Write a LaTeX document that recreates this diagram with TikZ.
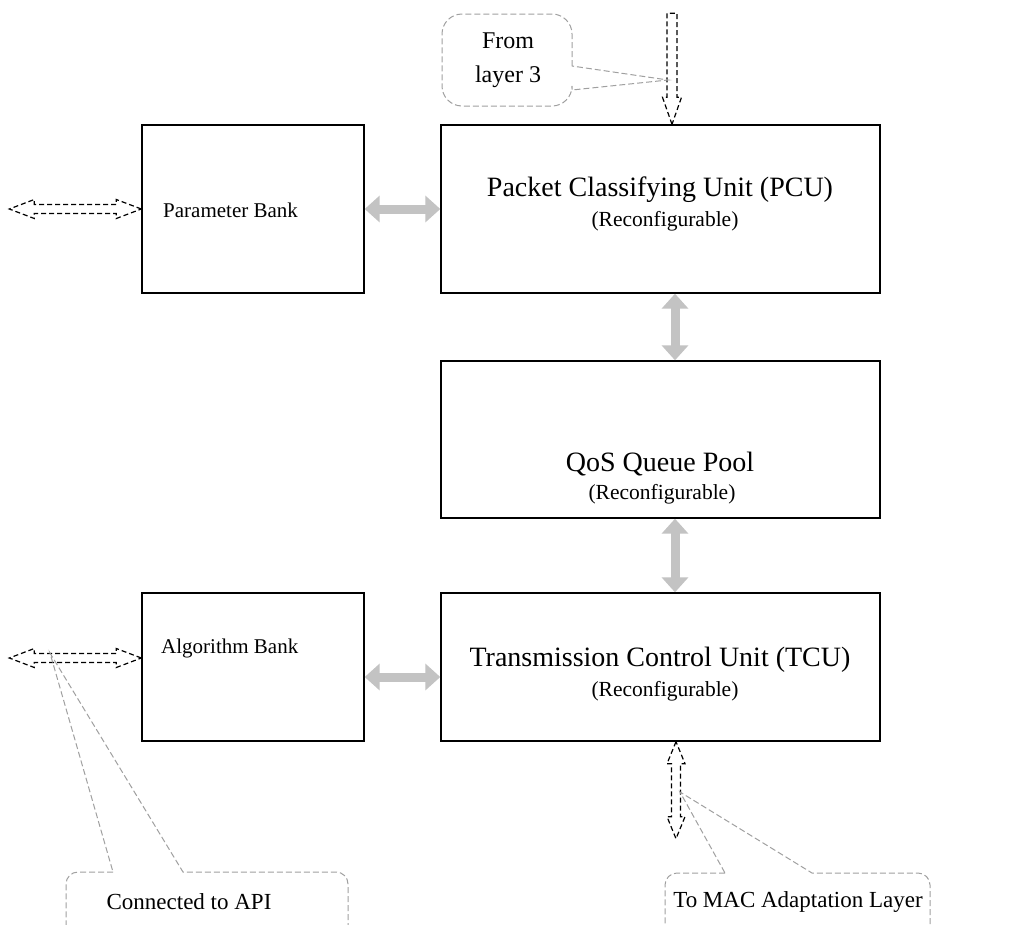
\documentclass[tikz,border=0pt]{standalone}
\usepackage{fontspec}
\setmainfont{Liberation Serif}
\usetikzlibrary{arrows.meta,calc}
\definecolor{arrowgray}{HTML}{C3C3C3}
\definecolor{calloutgray}{HTML}{A0A0A0}
\begin{document}
\begin{tikzpicture}[x=1pt,y=-1pt,
  box/.style={draw=black, line width=1.4pt, inner sep=0pt, minimum width=#1},
  lbl/.style={inner sep=0pt, anchor=west, font=\fontsize{21}{24}\selectfont},
  title/.style={inner sep=0pt, font=\fontsize{28}{32}\selectfont},
  recon/.style={inner sep=0pt, font=\fontsize{21.5}{24}\selectfont},
  ctext/.style={inner sep=0pt, align=center, font=\fontsize{#1}{34}\selectfont},
  garrow/.style={draw=arrowgray, line width=9pt, {Triangle[length=15pt,width=26pt]}-{Triangle[length=15pt,width=26pt]}},
  hollow/.style={draw=black, line width=1.2pt, dash pattern=on 5pt off 3pt, line join=miter},
  callout/.style={draw=calloutgray, line width=1pt, dash pattern=on 6pt off 3pt}]
\clip (0,0) rectangle (1011,924);
\fill[white] (0,0) rectangle (1011,924);

% boxes
\node[box=222pt, minimum height=168pt] (pb) at (253,209) {};
\node[box=439pt, minimum height=168pt] (pcu) at (660.5,209) {};
\node[box=439pt, minimum height=157pt] (qos) at (660.5,439.5) {};
\node[box=222pt, minimum height=148pt] (ab) at (253,667) {};
\node[box=439pt, minimum height=148pt] (tcu) at (660.5,667) {};

% texts
\node[lbl] (pbt) at (163,210) {Parameter Bank};
\node[lbl] (abt) at (161,648) {Algorithm Bank};
\node[title] (pcut) at (660,190) {Packet Classifying Unit (PCU)};
\node[recon] (pcur) at (665,221) {(Reconfigurable)};
\node[title] (qost) at (660,464) {QoS Queue Pool};
\node[recon] (qosr) at (662,494) {(Reconfigurable)};
\node[title] (tcut) at (660,660) {Transmission Control Unit (TCU)};
\node[recon] (tcur) at (665,691) {(Reconfigurable)};

% gray connectors
\draw[garrow] (pb.east) -- (pcu.west);
\draw[garrow] ($(pcu.south)+(14.5,0)$) -- ($(qos.north)+(14.5,0)$);
\draw[garrow] ($(qos.south)+(14.5,0)$) -- ($(tcu.north)+(14.5,0)$);
\draw[garrow] ($(ab.east)+(0,10)$) -- ($(tcu.west)+(0,10)$);

% hollow dashed arrows
\coordinate (la1) at (pb.west);
\draw[hollow] (la1) -- ++(-25,-9.5) -- ++(0,5) -- ++(-82,0) -- ++(0,-5) -- ++(-25,9.5)
  -- ++(25,9.5) -- ++(0,-5) -- ++(82,0) -- ++(0,5) -- cycle;
\coordinate (la2) at ($(ab.west)+(0,-9)$);
\draw[hollow] (la2) -- ++(-25,-9.5) -- ++(0,5) -- ++(-82,0) -- ++(0,-5) -- ++(-25,9.5)
  -- ++(25,9.5) -- ++(0,-5) -- ++(82,0) -- ++(0,5) -- cycle;
\coordinate (ta) at ($(pcu.north)+(11.5,0)$);
\draw[hollow] (ta) -- ++(-9.5,-27) -- ++(4.5,0) -- ++(0,-84) -- ++(10,0) -- ++(0,84)
  -- ++(4.5,0) -- cycle;
\coordinate (ba) at ($(tcu.south)+(15.5,0)$);
\draw[hollow] (ba) -- ++(-9,22) -- ++(4.5,0) -- ++(0,53) -- ++(-4.5,0) -- ++(9,22)
  -- ++(9,-22) -- ++(-4.5,0) -- ++(0,-53) -- ++(4.5,0) -- cycle;

% callouts
\coordinate (tipTop) at (668,80);
\coordinate (tipApi) at (50,653);
\coordinate (tipMac) at (680,792);
\draw[callout] (572,66) [rounded corners=20pt] -- (572,14) -- (442,14) -- (442,106) -- (572,106) [sharp corners] -- (572,90) -- (tipTop) -- cycle;
\node[ctext=24] (fromt) at (508,60) {From\\layer 3};

\draw[callout] (113,872) [rounded corners=12pt] -- (66,872) -- (66,960) -- (348,960) -- (348,872) [sharp corners] -- (183,872) -- (tipApi) -- cycle;
\node[ctext=23] (apit) at (189,902) {Connected to API};

\draw[callout] (725,873) [rounded corners=12pt] -- (665,873) -- (665,960) -- (930,960) -- (930,873) [sharp corners] -- (812,873) -- (tipMac) -- cycle;
\node[ctext=23] (mact) at (798,902) {To MAC Adaptation Layer};
\end{tikzpicture}
\end{document}
